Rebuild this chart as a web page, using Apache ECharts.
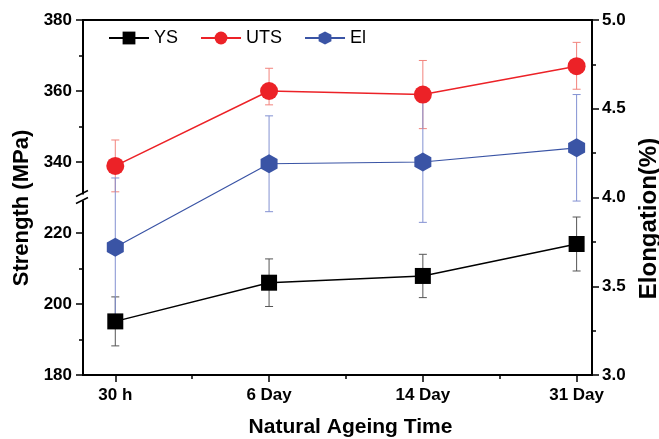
<!DOCTYPE html>
<html>
<head>
<meta charset="utf-8">
<script src="https://cdn.jsdelivr.net/npm/echarts@6/dist/echarts.min.js"></script>
<style>
	html, body { margin: 0; padding: 0; background: #fff; }
	#chart { width: 659px; height: 439px; }
</style>
</head>
<body>
<div id="chart"></div>
<script>
// categories on the x axis
const categories = ['30 h', '6 Day', '14 Day', '31 Day'];
// strength (MPa), left axis
const ysValues = [195.1, 206.0, 207.9, 216.9];
const ysErr = [6.9, 6.7, 6.1, 7.6];
const utsValues = [338.9, 360.0, 359.0, 367.0];
const utsErrUp = [7.3, 6.4, 9.6, 6.7];
const utsErrDown = [7.3, 3.9, 9.6, 6.5];
// elongation (%), right axis
const elValues = [3.72, 4.19, 4.20, 4.28];
const elErr = [0.39, 0.27, 0.34, 0.30];
// broken left axis: 220 -> 340 squeezed into one 20 MPa step
const breakAt = 230;
const breakShift = 100;

const FONT = 'Liberation Sans';

function toAxis (v) {
	return v > breakAt ? v - breakShift : v;
}
function axisLabelOf (v) {
	return v > breakAt ? String(v + breakShift) : String(v);
}

const ysData = ysValues.map((v, i) => [i, v]);
const utsData = utsValues.map((v, i) => [i, toAxis(v)]);
const elData = elValues.map((v, i) => [i, v]);
const ysBars = ysValues.map((v, i) => [i, v - ysErr[i], v + ysErr[i]]);
const utsBars = utsValues.map((v, i) => [i, toAxis(v - utsErrDown[i]), toAxis(v + utsErrUp[i])]);
const elBars = elValues.map((v, i) => [i, v - elErr[i], v + elErr[i]]);

function errorBar (color) {
	return function (params, api) {
		const x = api.value(0);
		const lo = api.coord([x, api.value(1)]);
		const hi = api.coord([x, api.value(2)]);
		const w = 4;
		const style = { stroke: color, lineWidth: 1 };
		return {
			type: 'group',
			children: [
				{ type: 'line', shape: { x1: lo[0], y1: lo[1], x2: hi[0], y2: hi[1] }, style: style },
				{ type: 'line', shape: { x1: lo[0] - w, y1: lo[1], x2: lo[0] + w, y2: lo[1] }, style: style },
				{ type: 'line', shape: { x1: hi[0] - w, y1: hi[1], x2: hi[0] + w, y2: hi[1] }, style: style }
			]
		};
	};
}

const hexagon = 'path://M0,-1 L0.866,-0.5 L0.866,0.5 L0,1 L-0.866,0.5 L-0.866,-0.5 Z';

const chart = echarts.init(document.getElementById('chart'), null, { renderer: 'canvas' });

const axisLine = { show: true, onZero: false, lineStyle: { color: '#000', width: 2 } };
const labelStyle = { color: '#000', fontFamily: FONT, fontWeight: 'bold', fontSize: 17 };

const option = {
	backgroundColor: '#fff',
	animation: false,
	grid: {
		left: 83, right: 67, top: 20, bottom: 64,
		outerBoundsMode: 'none', containLabel: false,
		show: true, borderColor: '#000', borderWidth: 2, backgroundColor: 'transparent'
	},
	legend: {
		left: 103, top: 24,
		itemWidth: 40, itemHeight: 16, itemGap: 22,
		textStyle: { color: '#000', fontFamily: FONT, fontSize: 18 },
		data: ['YS', 'UTS', 'El']
	},
	xAxis: [
		{
			type: 'value', min: -0.21, max: 3.1,
			axisLine: axisLine,
			splitLine: { show: false },
			axisTick: { show: true, customValues: [0, 1, 2, 3], length: 7, lineStyle: { color: '#000', width: 1.5 } },
			axisLabel: Object.assign({ customValues: [0, 1, 2, 3], margin: 12, formatter: v => categories[Math.round(v)] }, labelStyle),
			name: 'Natural Ageing Time', nameLocation: 'middle', nameGap: 42,
			nameTextStyle: { color: '#000', fontFamily: FONT, fontWeight: 'bold', fontSize: 21, padding: [0, 0, 0, 26] }
		},
		{
			type: 'value', min: -0.21, max: 3.1, position: 'bottom',
			axisLine: { show: false, onZero: false },
			splitLine: { show: false },
			axisTick: { show: true, customValues: [0.5, 1.5, 2.5], length: 4, lineStyle: { color: '#000', width: 1.5 } },
			axisLabel: { show: false }
		}
	],
	yAxis: [
		{
			type: 'value', position: 'left', min: 180, max: 280, interval: 20,
			axisLine: axisLine,
			splitLine: { show: false },
			axisTick: { show: true, length: 7, lineStyle: { color: '#000', width: 1.5 } },
			minorTick: { show: true, splitNumber: 2, length: 4, lineStyle: { color: '#000', width: 1.5 } },
			minorSplitLine: { show: false },
			axisLabel: Object.assign({ margin: 11, formatter: axisLabelOf }, labelStyle),
			name: 'Strength (MPa)', nameLocation: 'middle', nameGap: 50, nameRotate: 90,
			nameTextStyle: { color: '#000', fontFamily: FONT, fontWeight: 'bold', fontSize: 22, padding: [0, 21, 0, 0] }
		},
		{
			type: 'value', position: 'right', min: 3, max: 5, interval: 0.5,
			axisLine: axisLine,
			splitLine: { show: false },
			axisTick: { show: true, length: 7, lineStyle: { color: '#000', width: 1.5 } },
			minorTick: { show: true, splitNumber: 2, length: 4, lineStyle: { color: '#000', width: 1.5 } },
			minorSplitLine: { show: false },
			axisLabel: Object.assign({ margin: 10, formatter: v => v.toFixed(1) }, labelStyle),
			name: 'Elongation(%)', nameLocation: 'middle', nameGap: 45, nameRotate: 90,
			nameTextStyle: { color: '#000', fontFamily: FONT, fontWeight: 'bold', fontSize: 24, padding: [0, 42, 0, 0] }
		}
	],
	series: [
		{
			name: 'YS-err', type: 'custom', yAxisIndex: 0, z: 1,
			renderItem: errorBar('#555'), encode: { x: 0, y: [1, 2] }, data: ysBars
		},
		{
			name: 'UTS-err', type: 'custom', yAxisIndex: 0, z: 1,
			renderItem: errorBar('#f2837c'), encode: { x: 0, y: [1, 2] }, data: utsBars
		},
		{
			name: 'El-err', type: 'custom', yAxisIndex: 1, z: 1,
			renderItem: errorBar('#8391d2'), encode: { x: 0, y: [1, 2] }, data: elBars
		},
		{
			name: 'YS', type: 'line', yAxisIndex: 0, z: 3,
			symbol: 'rect', symbolSize: 16,
			itemStyle: { color: '#000' },
			lineStyle: { color: '#000', width: 1.5 },
			data: ysData
		},
		{
			name: 'UTS', type: 'line', yAxisIndex: 0, z: 3,
			symbol: 'circle', symbolSize: 18,
			itemStyle: { color: '#ec2227' },
			lineStyle: { color: '#ec2227', width: 1.5 },
			data: utsData
		},
		{
			name: 'El', type: 'line', yAxisIndex: 1, z: 3,
			symbol: hexagon, symbolSize: [17, 19],
			itemStyle: { color: '#3a54a5' },
			lineStyle: { color: '#3a54a5', width: 1.2 },
			data: elData
		}
	]
};

chart.setOption(option);

// axis break mark "//" on the left axis
const by = chart.convertToPixel({ yAxisIndex: 0 }, breakAt);
const bx = chart.convertToPixel({ xAxisIndex: 0 }, -0.21);
chart.setOption({
	graphic: [
		{ type: 'rect', z: 100, shape: { x: bx - 7, y: by - 3, width: 12, height: 6 }, style: { fill: '#fff' } },
		{ type: 'line', z: 101, shape: { x1: bx - 7, y1: by - 1, x2: bx + 5, y2: by - 7 }, style: { stroke: '#000', lineWidth: 1.5 } },
		{ type: 'line', z: 101, shape: { x1: bx - 7, y1: by + 6, x2: bx + 5, y2: by + 0 }, style: { stroke: '#000', lineWidth: 1.5 } }
	]
});
</script>
</body>
</html>
